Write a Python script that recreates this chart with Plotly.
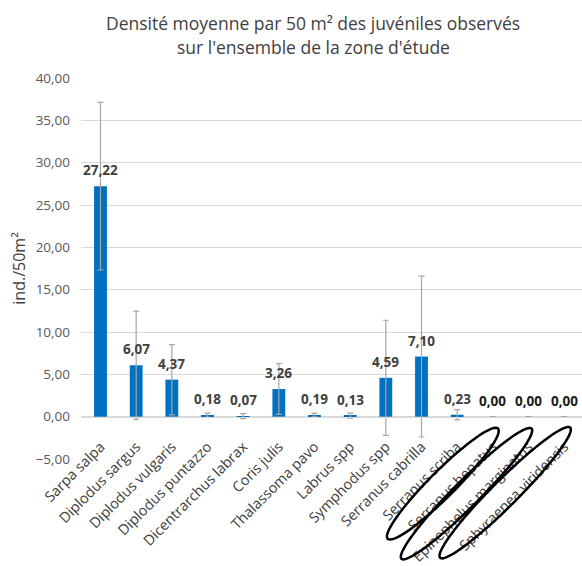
import numpy as np
import plotly.graph_objects as go

# Mean juvenile density per 50 m² and its standard deviation, by species
species = [
    "Sarpa salpa", "Diplodus sargus", "Diplodus vulgaris", "Diplodus puntazzo",
    "Dicentrarchus labrax", "Coris julis", "Thalassoma pavo", "Labrus spp",
    "Symphodus spp", "Serranus cabrilla", "Serranus scriba", "Serranus hepatus",
    "Epinephelus marginatus", "Sphyraenea viridensis",
]
density = [27.22, 6.07, 4.37, 0.18, 0.07, 3.26, 0.19, 0.13, 4.59, 7.10, 0.23, 0.00, 0.00, 0.00]
std_dev = [9.9, 6.4, 4.15, 0.25, 0.3, 3.0, 0.2, 0.3, 6.8, 9.5, 0.6, 0.0, 0.0, 0.0]

# Species absent from the survey, circled on the category axis
circled = ["Serranus hepatus", "Epinephelus marginatus", "Sphyraenea viridensis"]

y_min, y_max = -5, 40
y_ticks = [-5, 0, 5, 10, 15, 20, 25, 30, 35, 40]

title_lines = [
    "Densité moyenne par 50 m² des juvéniles observés",
    "sur l'ensemble de la zone d'étude",
]

BLUE = "#0070C0"
TEXT = "#404040"
GRID = "#d9d9d9"
FONT = "Open Sans"

MARGIN_T, MARGIN_B = 78, 107
PLOT_H = 566 - MARGIN_T - MARGIN_B
axis_pos = (0 - y_min) / (y_max - y_min)

fig = go.Figure()
fig.add_trace(go.Bar(
    x=species, y=density, width=0.36,
    marker=dict(color=BLUE, line=dict(width=0)),
    error_y=dict(type="data", array=std_dev, visible=True,
                 color="#a6a6a6", thickness=1.2, width=3),
    hoverinfo="x+y",
))

# Value labels above each bar
for name, v in zip(species, density):
    fig.add_annotation(
        x=name, y=v, xref="x", yref="y", yanchor="bottom", yshift=5,
        text=f"<b>{v:.2f}</b>".replace(".", ","), showarrow=False,
        font=dict(family=FONT, size=13.5, color="#1a1a1a" if v == 0 else TEXT),
    )

# Two-line chart title, centred over the chart body
for i, line in enumerate(title_lines):
    y_px = 23 + 24 * i
    fig.add_annotation(
        x=270 / 582, xref="paper", xanchor="center",
        y=1 + (MARGIN_T - y_px) / PLOT_H, yref="paper", yanchor="middle",
        text=line, showarrow=False,
        font=dict(family=FONT, size=17.5, color=TEXT),
    )

# Rotated ellipses around the absent species' axis labels
t = np.linspace(0, 2 * np.pi, 73)
ellipse_geom = {
    "Serranus hepatus": (-50, -67, 78, 13),
    "Epinephelus marginatus": (-62, -77, 92, 13),
    "Sphyraenea viridensis": (-59, -76, 92, 13),
}
ang = np.deg2rad(45)
for name in circled:
    cx, cy, a, b = ellipse_geom[name]
    ex = cx + a * np.cos(t) * np.cos(ang) - b * np.sin(t) * np.sin(ang)
    ey = cy + a * np.cos(t) * np.sin(ang) + b * np.sin(t) * np.cos(ang)
    path = "M " + " L ".join(f"{px:.1f},{py:.1f}" for px, py in zip(ex, ey)) + " Z"
    fig.add_shape(
        type="path", path=path, xref="x", yref="paper",
        xsizemode="pixel", ysizemode="pixel", xanchor=name, yanchor=axis_pos,
        line=dict(color="black", width=2.5), fillcolor="rgba(0,0,0,0)",
        layer="above",
    )

fig.update_layout(
    width=582, height=566,
    margin=dict(l=81, r=0, t=MARGIN_T, b=MARGIN_B, autoexpand=False),
    paper_bgcolor="white", plot_bgcolor="white",
    separators=", ",
    showlegend=False,
    font=dict(family=FONT, color=TEXT),
    xaxis=dict(
        anchor="free", position=axis_pos, automargin=False,
        tickangle=-45, tickfont=dict(family=FONT, size=14.4, color=TEXT),
        showline=True, linecolor=GRID, linewidth=1,
        ticks="", showgrid=False, ticklabelstandoff=15,
    ),
    yaxis=dict(
        range=[y_min, y_max], tickvals=y_ticks, tickformat=".2f",
        automargin=False,
        showgrid=True, gridcolor=GRID, gridwidth=1,
        zeroline=True, zerolinecolor=GRID, zerolinewidth=1,
        tickfont=dict(family=FONT, size=13.5, color="#595959"),
        title=dict(text="ind./50m²", font=dict(family=FONT, size=16, color=TEXT), standoff=6),
        ticks="", ticklabelstandoff=10,
    ),
)

fig.write_html("out.html")
